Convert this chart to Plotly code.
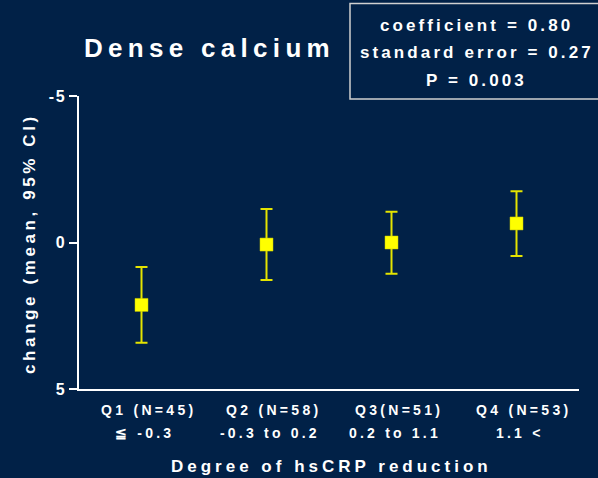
import plotly.graph_objects as go

# Quartiles of hsCRP reduction and the change in dense calcium (mean, 95% CI)
quartile_labels = ["Q1 (N=45)", "Q2 (N=58)", "Q3(N=51)", "Q4 (N=53)"]
range_labels = ["≦ -0.3", "-0.3 to 0.2", "0.2 to 1.1", "1.1 <"]
mean_change = [2.13, 0.07, 0.00, -0.65]
ci_low = [0.84, -1.14, -1.05, -1.75]
ci_high = [3.42, 1.28, 1.07, 0.46]
y_ticks = [-5, 0, 5]
stats_lines = ["coefficient = 0.80", "standard error = 0.27", "P = 0.003"]

BG = "#012147"
WHITE = "#ffffff"
FONT = "Liberation Sans, Arial, sans-serif"


def spaced(text, px):
    return f'<span style="letter-spacing:{px}px">{text}</span>'


xs = list(range(len(mean_change)))
err_plus = [h - m for h, m in zip(ci_high, mean_change)]
err_minus = [m - l for m, l in zip(mean_change, ci_low)]

fig = go.Figure()
fig.add_trace(go.Scatter(
    x=xs, y=mean_change, mode="markers",
    marker=dict(symbol="square", size=13, color="#ffff00",
                line=dict(color="#c8c800", width=0.5)),
    error_y=dict(type="data", symmetric=False, array=err_plus, arrayminus=err_minus,
                 color="#e4e400", thickness=2, width=6),
    showlegend=False, hoverinfo="skip",
))

annotations = []
# Two-line category labels under the x axis
for i, (q, r) in enumerate(zip(quartile_labels, range_labels)):
    annotations.append(dict(x=i, xref="x", y=-0.0717, yref="paper", xshift=7,
                            text=f"<b>{spaced(q, 3.3)}</b>", showarrow=False,
                            font=dict(family=FONT, size=14, color=WHITE),
                            xanchor="center", yanchor="middle"))
    annotations.append(dict(x=i, xref="x", y=-0.150, yref="paper", xshift=3,
                            text=f"<b>{spaced(r, 3.2)}</b>", showarrow=False,
                            font=dict(family=FONT, size=14, color=WHITE),
                            xanchor="center", yanchor="middle"))

# Axis titles
annotations.append(dict(x=0.504, xref="paper", y=-0.266, yref="paper",
                        text=f"<b>{spaced('Degree of hsCRP reduction', 4.0)}</b>",
                        showarrow=False, font=dict(family=FONT, size=17, color=WHITE),
                        xanchor="center", yanchor="middle"))
annotations.append(dict(x=-0.098, xref="paper", y=0.495, yref="paper",
                        text=f"<b>{spaced('change (mean, 95% CI)', 3.6)}</b>",
                        textangle=-90, showarrow=False,
                        font=dict(family=FONT, size=17, color=WHITE),
                        xanchor="center", yanchor="middle"))

# Chart title
annotations.append(dict(x=0.26, xref="paper", y=1.164, yref="paper",
                        text=f"<b>{spaced('Dense calcium', 5.3)}</b>",
                        showarrow=False, font=dict(family=FONT, size=26, color=WHITE),
                        xanchor="center", yanchor="middle"))

# Regression statistics box
for line, yp in zip(stats_lines, [1.239, 1.147, 1.052]):
    annotations.append(dict(x=0.795, xref="paper", y=yp, yref="paper",
                            text=f"<b>{spaced(line, 3.1)}</b>", showarrow=False,
                            font=dict(family=FONT, size=17, color=WHITE),
                            xanchor="center", yanchor="middle"))

fig.add_shape(type="rect", xref="paper", yref="paper",
              x0=0.542, x1=1.10, y0=0.99, y1=1.316,
              line=dict(color="#d0d0d0", width=1.5), fillcolor="rgba(0,0,0,0)")

fig.update_layout(
    width=598, height=478,
    paper_bgcolor=BG, plot_bgcolor=BG,
    margin=dict(l=79, r=19, t=96, b=89),
    annotations=annotations,
    xaxis=dict(range=[-0.5, 3.5], showgrid=False, zeroline=False,
               showline=True, linecolor=WHITE, linewidth=1.5,
               showticklabels=False, ticks=""),
    yaxis=dict(range=[5, -5], showgrid=False, zeroline=False,
               showline=True, linecolor=WHITE, linewidth=1.5,
               tickvals=y_ticks,
               ticktext=[f"<b>{spaced(str(v), 1.5)}</b>" for v in y_ticks],
               ticks="outside", ticklen=8, tickwidth=1.5, tickcolor=WHITE,
               tickfont=dict(family=FONT, size=16, color=WHITE)),
)

fig.write_html("out.html")
